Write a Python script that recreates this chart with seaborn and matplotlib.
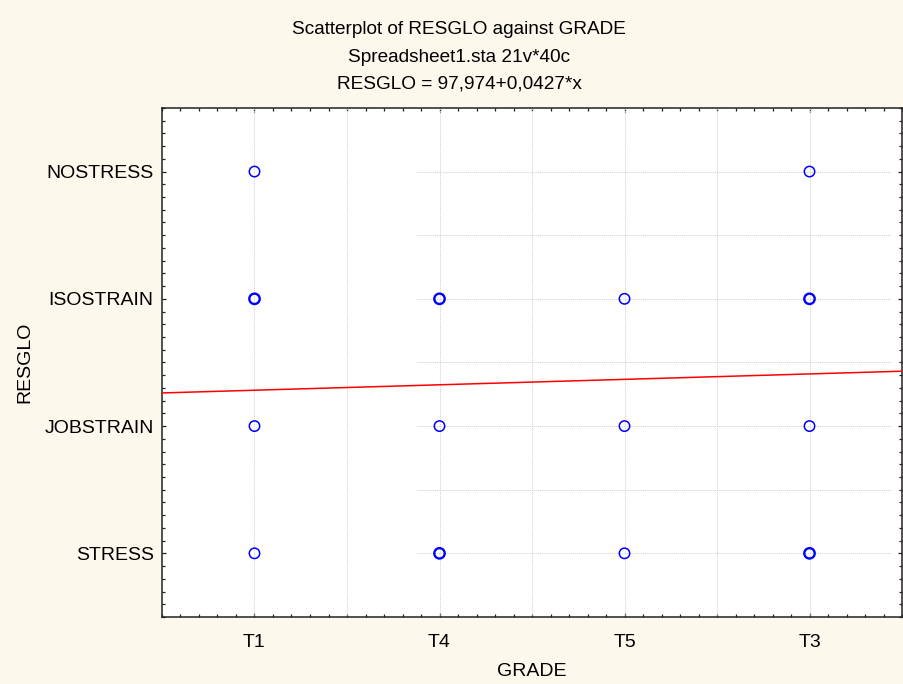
import numpy as np
import pandas as pd
import matplotlib
matplotlib.use('Agg')
import matplotlib.pyplot as plt
import seaborn as sns
from matplotlib.ticker import FixedLocator, MultipleLocator

# categories
grades = ['T1', 'T4', 'T5', 'T3']
resglo_levels = ['STRESS', 'JOBSTRAIN', 'ISOSTRAIN', 'NOSTRESS']

# observed points (grade, resglo, number of overlapping cases)
pt_grade = ['T1', 'T1', 'T1', 'T1',
            'T4', 'T4', 'T4',
            'T5', 'T5', 'T5',
            'T3', 'T3', 'T3', 'T3']
pt_resglo = ['NOSTRESS', 'ISOSTRAIN', 'JOBSTRAIN', 'STRESS',
             'ISOSTRAIN', 'JOBSTRAIN', 'STRESS',
             'ISOSTRAIN', 'JOBSTRAIN', 'STRESS',
             'NOSTRESS', 'ISOSTRAIN', 'JOBSTRAIN', 'STRESS']
pt_count = [1, 2, 1, 1,
            2, 1, 2,
            1, 1, 1,
            1, 2, 1, 2]

# fitted line (in plot coding) : slope from RESGLO = 97,974+0,0427*x
fit_intercept = 2.239
fit_slope = 0.0427

title_lines = ['Scatterplot of RESGLO against GRADE',
               'Spreadsheet1.sta 21v*40c',
               'RESGLO = 97,974+0,0427*x']

sns.set_style('white')
plt.rcParams['font.family'] = ['Liberation Sans', 'DejaVu Sans']
plt.rcParams['text.color'] = 'black'
plt.rcParams['axes.labelcolor'] = 'black'
plt.rcParams['xtick.color'] = 'black'
plt.rcParams['ytick.color'] = 'black'

bg = '#fdf8ec'
fig = plt.figure(figsize=(9.04, 6.84), dpi=100, facecolor=bg)
ax = fig.add_axes([0.1792, 0.0980, 0.8186, 0.7442])
ax.set_facecolor('white')

xpos = {g: i + 1 for i, g in enumerate(grades)}
ypos = {r: i + 1 for i, r in enumerate(resglo_levels)}

df = pd.DataFrame({'grade': pt_grade, 'resglo': pt_resglo, 'n': pt_count})
df['x'] = df['grade'].map(xpos)
df['y'] = df['resglo'].map(ypos)

xlo, xhi = 0.5, len(grades) + 0.5
ylo, yhi = 0.5, len(resglo_levels) + 0.5

# grid: dotted lines at categories and half-steps
grid_x = np.arange(1, len(grades) + 0.01, 0.5)
grid_y = np.arange(1, len(resglo_levels) + 0.01, 0.5)
ax.vlines(grid_x, ylo, yhi, colors='#cfcfcf', linestyles=(0, (1, 1)), linewidth=0.7, zorder=1)
ax.hlines(grid_y, 1.88, 4.44, colors='#cfcfcf', linestyles=(0, (1, 1)), linewidth=0.7, zorder=1)

# regression line
line_x = np.array([xlo, xhi])
line_df = pd.DataFrame({'x': line_x, 'y': fit_intercept + fit_slope * line_x})
sns.lineplot(data=line_df, x='x', y='y', color='#ff0000', linewidth=1.1, ax=ax, zorder=3)

# points
for n, sub in df.groupby('n'):
    sns.scatterplot(data=sub, x='x', y='y', marker='o', s=56,
                    facecolor='none', edgecolor='#0000ff',
                    linewidth=1.1 if n == 1 else 1.7, ax=ax, zorder=4)

ax.set_xlim(xlo, xhi)
ax.set_ylim(ylo, yhi)
ax.xaxis.set_major_locator(FixedLocator(list(xpos.values())))
ax.yaxis.set_major_locator(FixedLocator(list(ypos.values())))
ax.set_xticklabels(grades)
ax.set_yticklabels(resglo_levels)
ax.xaxis.set_minor_locator(MultipleLocator(0.1))
ax.yaxis.set_minor_locator(MultipleLocator(0.1))
ax.tick_params(which='both', direction='in', top=True, right=True,
               bottom=True, left=True, color='#222222', width=0.9)
ax.tick_params(which='major', length=3.2)
ax.tick_params(which='minor', length=2.4)
ax.tick_params(axis='x', which='major', labelsize=14, pad=12)
ax.tick_params(axis='y', which='major', labelsize=14, pad=6)

for sp in ax.spines.values():
    sp.set_visible(True)
    sp.set_color('#222222')
    sp.set_linewidth(1.1)

ax.set_xlabel('GRADE', fontsize=14, labelpad=9)
ax.set_ylabel('RESGLO', fontsize=14, labelpad=8)

for i, t in enumerate(title_lines):
    fig.text(0.508, 1 - (30 + 27 * i) / 684, t, ha='center', va='center', fontsize=13.7)

fig.savefig('out.png', dpi=100, facecolor=bg)
